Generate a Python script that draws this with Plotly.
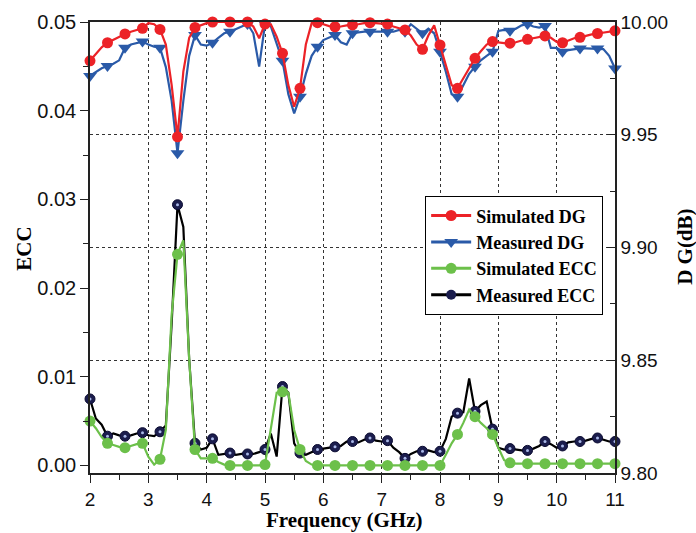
import numpy as np
import plotly.graph_objects as go

# Frequency grid (GHz), 0.1 GHz step; markers every 0.3 GHz
freq = np.round(np.arange(2.0, 11.001, 0.1), 1)

sim_dg = [
    9.9828, 9.9860, 9.9888, 9.9908, 9.9922, 9.9935, 9.9947, 9.9957, 9.9966, 9.9972,
    9.9995, 9.9990, 9.9967, 9.9900, 9.9720, 9.9491, 9.9780, 9.9930, 9.9976, 9.9985,
    9.9995, 10.0, 10.0, 10.0, 10.0, 10.0, 10.0, 10.0, 9.9980, 9.9928,
    9.9991, 9.9990, 9.9935, 9.9861, 9.9720, 9.9624, 9.9706, 9.9900, 9.9995, 9.9997,
    9.9990, 9.9982, 9.9979, 9.9980, 9.9985, 9.9987, 9.9990, 9.9995, 9.9997, 9.9995,
    9.9993, 9.9991, 9.9980, 9.9972, 9.9965, 9.9940, 9.9900, 9.9879, 9.9940, 9.9985,
    9.9898, 9.9800, 9.9720, 9.9706, 9.9750, 9.9800, 9.9839, 9.9870, 9.9900, 9.9913,
    9.9908, 9.9906, 9.9906, 9.9910, 9.9918, 9.9923, 9.9930, 9.9935, 9.9938, 9.9930,
    9.9912, 9.9908, 9.9918, 9.9928, 9.9932, 9.9940, 9.9945, 9.9949, 9.9953, 9.9957,
    9.9961,
]

meas_dg = [
    9.9761, 9.9780, 9.9795, 9.9805, 9.9815, 9.9830, 9.9886, 9.9900, 9.9908, 9.9913,
    9.9900, 9.9890, 9.9886, 9.9800, 9.9650, 9.9418, 9.9650, 9.9850, 9.9942, 9.9900,
    9.9895, 9.9908, 9.9930, 9.9950, 9.9957, 9.9970, 9.9980, 9.9991, 9.9950, 9.9802,
    9.9991, 9.9980, 9.9900, 9.9828, 9.9680, 9.9595, 9.9669, 9.9770, 9.9850, 9.9890,
    9.9920, 9.9930, 9.9942, 9.9910, 9.9900, 9.9950, 9.9955, 9.9957, 9.9957, 9.9957,
    9.9957, 9.9957, 9.9957, 9.9965, 9.9957, 9.9990, 9.9970, 9.9950, 9.9970, 9.9950,
    9.9868, 9.9780, 9.9680, 9.9669, 9.9720, 9.9770, 9.9802, 9.9830, 9.9850, 9.9868,
    9.9960, 9.9965, 9.9961, 9.9970, 9.9985, 9.9991, 9.9980, 9.9975, 9.9982, 9.9885,
    9.9885, 9.9868, 9.9875, 9.9880, 9.9883, 9.9883, 9.9883, 9.9883, 9.9880, 9.9850,
    9.9794,
]

sim_ecc = [
    0.0050, 0.0042, 0.0032, 0.0025, 0.0023, 0.0021, 0.0020, 0.0022, 0.0024, 0.0025,
    0.0010, 0.0001, 0.0007, 0.0040, 0.0170, 0.0238, 0.0254, 0.0120, 0.0018, 0.0008,
    0.0008, 0.0008, 0.0004, 0.0001, 0.0000, 0.0000, 0.0000, 0.0000, 0.0000, 0.0000,
    0.0001, 0.0040, 0.0082, 0.0083, 0.0082, 0.0040, 0.0018, 0.0005, 0.0001, 0.0000,
    0.0000, 0.0000, 0.0000, 0.0000, 0.0000, 0.0000, 0.0000, 0.0000, 0.0000, 0.0000,
    0.0000, 0.0000, 0.0000, 0.0000, 0.0000, 0.0000, 0.0000, 0.0000, 0.0000, 0.0000,
    0.0000, 0.0012, 0.0025, 0.0035, 0.0048, 0.0063, 0.0055, 0.0048, 0.0042, 0.0035,
    0.0020, 0.0006, 0.0003, 0.0002, 0.0002, 0.0002, 0.0002, 0.0002, 0.0002, 0.0002,
    0.0002, 0.0002, 0.0002, 0.0002, 0.0002, 0.0002, 0.0002, 0.0002, 0.0002, 0.0002,
    0.0002,
]

meas_ecc = [
    0.0075, 0.0053, 0.0046, 0.0033, 0.0036, 0.0034, 0.0033, 0.0034, 0.0036, 0.0037,
    0.0034, 0.0033, 0.0038, 0.0045, 0.0160, 0.0294, 0.0269, 0.0120, 0.0025, 0.0018,
    0.0020, 0.0030, 0.0012, 0.0013, 0.0014, 0.0012, 0.0013, 0.0013, 0.0013, 0.0015,
    0.0018, 0.0036, 0.0010, 0.0089, 0.0082, 0.0025, 0.0014, 0.0012, 0.0015, 0.0018,
    0.0019, 0.0020, 0.0021, 0.0022, 0.0027, 0.0027, 0.0026, 0.0029, 0.0031, 0.0028,
    0.0027, 0.0028, 0.0020, 0.0015, 0.0008, 0.0013, 0.0016, 0.0016, 0.0017, 0.0015,
    0.0016, 0.0030, 0.0055, 0.0059, 0.0060, 0.0098, 0.0061, 0.0068, 0.0072, 0.0041,
    0.0020, 0.0018, 0.0019, 0.0018, 0.0017, 0.0017, 0.0019, 0.0022, 0.0027, 0.0024,
    0.0020, 0.0022, 0.0026, 0.0027, 0.0027, 0.0028, 0.0030, 0.0031, 0.0029, 0.0027,
    0.0027,
]

for arr in (sim_dg, meas_dg, sim_ecc, meas_ecc):
    assert len(arr) == len(freq), len(arr)

series_names = ["Simulated DG", "Measured DG", "Simulated ECC", "Measured ECC"]

RED = "#ec2227"
BLUE = "#2a5aa8"
GREEN = "#6cc04a"
NAVY = "#1b1d4d"
BLACK = "#000000"

mk = slice(None, None, 3)
fx = list(freq)
fm = list(freq[mk])

fig = go.Figure()

# ---- ECC (left axis) ----
fig.add_trace(go.Scatter(x=fx, y=meas_ecc, mode="lines", line=dict(color=BLACK, width=2.2),
                         showlegend=False, cliponaxis=False, yaxis="y"))
fig.add_trace(go.Scatter(x=fm, y=meas_ecc[mk], mode="markers",
                         marker=dict(symbol="circle", size=10, color=NAVY,
                                     line=dict(color="#0a0a30", width=1)),
                         showlegend=False, cliponaxis=False, yaxis="y"))
fig.add_trace(go.Scatter(x=fm, y=meas_ecc[mk], mode="markers",
                         marker=dict(symbol="circle", size=3, color="#a9b8e8"),
                         showlegend=False, cliponaxis=False, yaxis="y", hoverinfo="skip"))
fig.add_trace(go.Scatter(x=fx, y=sim_ecc, mode="lines", line=dict(color=GREEN, width=2.2),
                         showlegend=False, cliponaxis=False, yaxis="y"))
fig.add_trace(go.Scatter(x=fm, y=sim_ecc[mk], mode="markers",
                         marker=dict(symbol="circle", size=11, color=GREEN),
                         showlegend=False, cliponaxis=False, yaxis="y"))

# ---- DG (right axis) ----
fig.add_trace(go.Scatter(x=fx, y=meas_dg, mode="lines", line=dict(color=BLUE, width=2.2),
                         showlegend=False, cliponaxis=False, yaxis="y2"))
fig.add_trace(go.Scatter(x=fm, y=meas_dg[mk], mode="markers",
                         marker=dict(symbol="triangle-down", size=12, color=BLUE),
                         showlegend=False, cliponaxis=False, yaxis="y2"))
fig.add_trace(go.Scatter(x=fx, y=sim_dg, mode="lines", line=dict(color=RED, width=2.2),
                         showlegend=False, cliponaxis=False, yaxis="y2"))
fig.add_trace(go.Scatter(x=fm, y=sim_dg[mk], mode="markers",
                         marker=dict(symbol="circle", size=11, color=RED),
                         showlegend=False, cliponaxis=False, yaxis="y2"))

# ---- legend entries ----
leg_styles = [
    (RED, "circle", 11),
    (BLUE, "triangle-down", 12),
    (GREEN, "circle", 11),
    (BLACK, "circle", 10),
]
for name, (col, sym, sz) in zip(series_names, leg_styles):
    mcol = NAVY if name == "Measured ECC" else col
    fig.add_trace(go.Scatter(x=[None], y=[None], mode="lines+markers", name=name,
                             line=dict(color=col, width=3),
                             marker=dict(symbol=sym, size=sz, color=mcol),
                             yaxis="y2" if "DG" in name else "y"))

tickfont = dict(family="Liberation Sans, Arial, sans-serif", size=19, color="#111")
titlefont = dict(family="Liberation Serif, Times New Roman, serif", size=21, color="#000", weight="bold")

fig.update_layout(
    width=696, height=533,
    margin=dict(l=90, r=81, t=22, b=60),
    paper_bgcolor="white", plot_bgcolor="white",
    showlegend=True,
    legend=dict(x=0.638, y=0.614, xanchor="left", yanchor="top",
                bgcolor="white", bordercolor="black", borderwidth=1.2,
                font=dict(family="Liberation Serif, Times New Roman, serif", size=18,
                          color="#000", weight="bold"),
                tracegroupgap=0, itemwidth=40),
    xaxis=dict(range=[2, 11], tickmode="array", tickvals=list(range(2, 12)),
               ticktext=[str(v) for v in range(2, 12)],
               ticks="outside", ticklen=8, tickwidth=1.2, tickcolor="#222",
               minor=dict(tickmode="array", tickvals=[v + 0.5 for v in range(2, 11)],
                          ticks="outside", ticklen=5, tickcolor="#222", showgrid=False),
               showline=True, linecolor="#222", linewidth=1.5, mirror=True,
               showgrid=True, gridcolor="#333", griddash="dot", gridwidth=1,
               zeroline=False, tickfont=tickfont),
    yaxis=dict(range=[-0.00085, 0.05], tickmode="array",
               tickvals=[0.0, 0.01, 0.02, 0.03, 0.04, 0.05],
               ticktext=["0.00", "0.01", "0.02", "0.03", "0.04", "0.05"],
               ticks="outside", ticklen=8, tickwidth=1.2, tickcolor="#222",
               minor=dict(tickmode="array", tickvals=[0.005, 0.015, 0.025, 0.035, 0.045],
                          ticks="outside", ticklen=5, tickcolor="#222", showgrid=False),
               showline=True, linecolor="#222", linewidth=1.5,
               showgrid=False, zeroline=False,
               tickfont=dict(family="Liberation Sans, Arial, sans-serif", size=20, color="#111")),
    yaxis2=dict(range=[9.80, 10.00], overlaying="y", side="right", tickmode="array",
                tickvals=[9.80, 9.85, 9.90, 9.95, 10.00],
                ticktext=["9.80", "9.85", "9.90", "9.95", "10.00"],
                ticks="inside", ticklen=8, tickwidth=1.2, tickcolor="#222",
                minor=dict(tickmode="array", tickvals=[9.825, 9.875, 9.925, 9.975],
                           ticks="inside", ticklen=5, tickcolor="#222", showgrid=False),
                showline=True, linecolor="#222", linewidth=1.5,
                showgrid=True, gridcolor="#333", griddash="dot", gridwidth=1,
                zeroline=False, tickfont=tickfont),
    annotations=[
        dict(text="Frequency (GHz)", xref="paper", yref="paper", x=0.484, y=-0.104,
             showarrow=False, font=titlefont, xanchor="center", yanchor="middle"),
        dict(text="ECC", xref="paper", yref="paper", x=-0.126, y=0.497, textangle=-90,
             showarrow=False, font=titlefont, xanchor="center", yanchor="middle"),
        dict(text="D G(dB)", xref="paper", yref="paper", x=1.133, y=0.501, textangle=-90,
             showarrow=False, font=titlefont, xanchor="center", yanchor="middle"),
    ],
)

fig.write_html("out.html")
